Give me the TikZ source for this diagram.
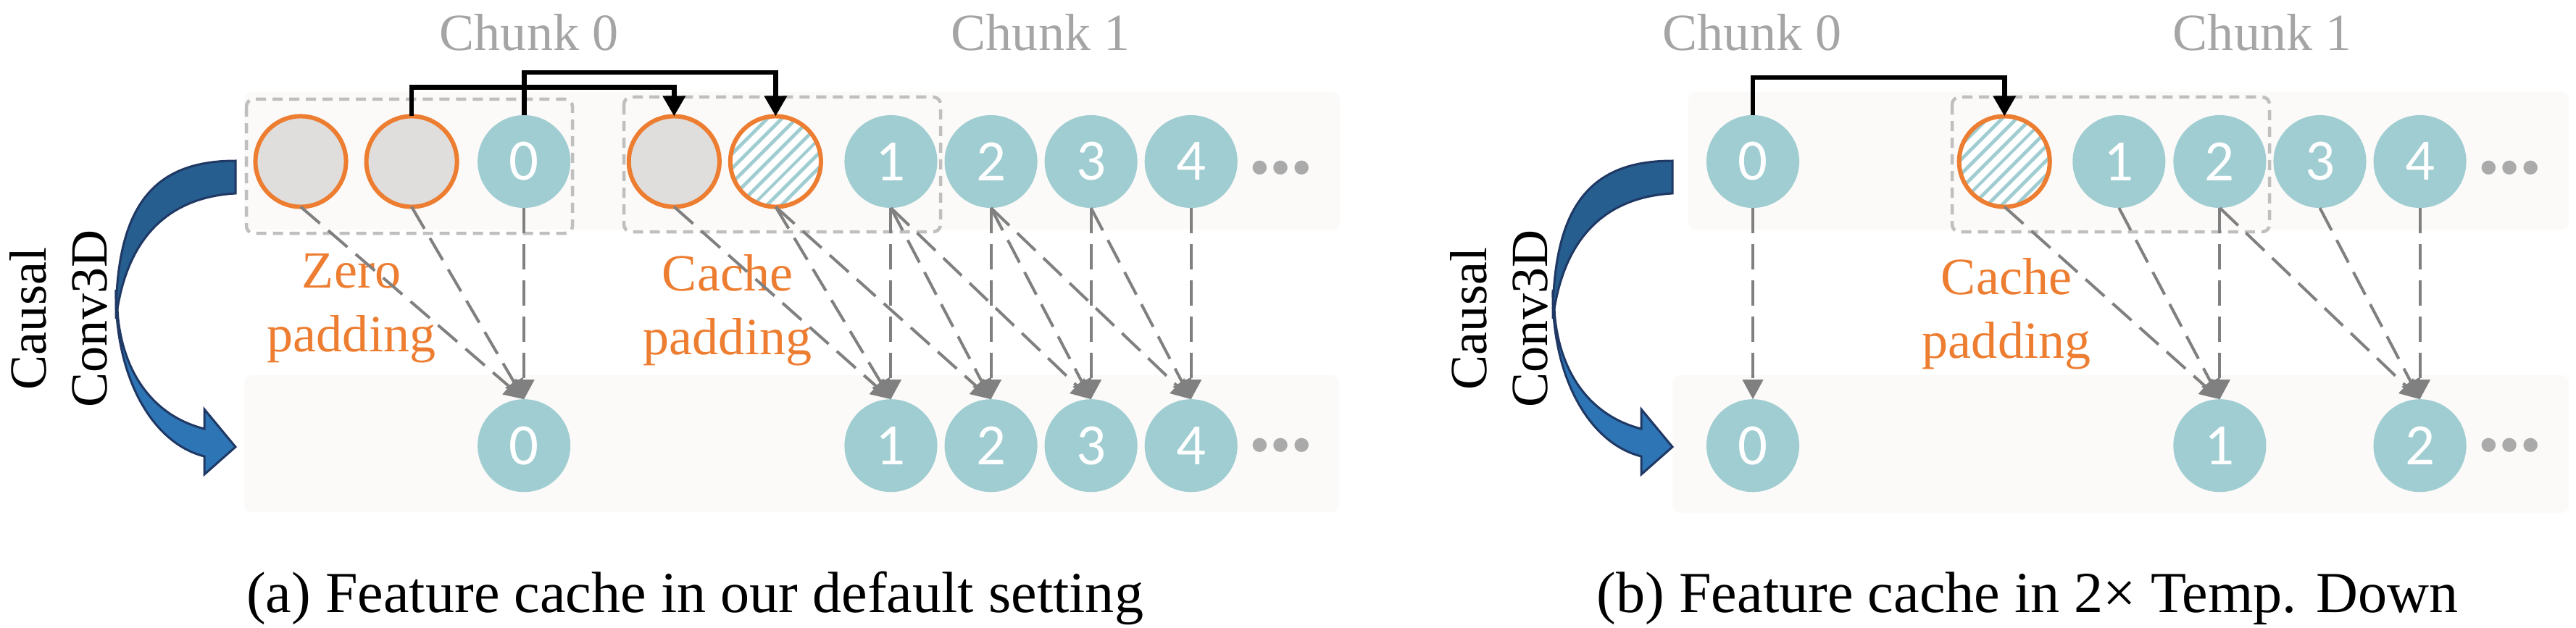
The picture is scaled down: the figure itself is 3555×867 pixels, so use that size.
\documentclass[tikz,border=0pt]{standalone}
\usepackage{fontspec}
\setmainfont{Liberation Serif}
\newfontfamily\digitfont{Carlito}
\usetikzlibrary{arrows.meta,positioning,patterns.meta}
\definecolor{featteal}{HTML}{9FCDD1}
\definecolor{padorange}{HTML}{ED7D31}
\definecolor{padgray}{HTML}{DFDEDD}
\definecolor{bandgray}{HTML}{FBFAF8}
\definecolor{boxgray}{HTML}{BFBFBF}
\definecolor{linkgray}{HTML}{808080}
\definecolor{labelgray}{HTML}{A5A5A5}
\definecolor{dotgray}{HTML}{AAAAAA}
\definecolor{arrowblue}{HTML}{2E75B6}
\definecolor{arrowdark}{HTML}{265E8F}
\definecolor{arrowedge}{HTML}{1F3864}
\tikzset{
  featnode/.style={circle,fill=featteal,minimum size=1.28cm,inner sep=0pt,outer sep=0pt,
    text=white,font=\digitfont\fontsize{23}{23}\selectfont},
  padnode/.style={circle,draw=padorange,line width=0.06cm,fill=padgray,
    minimum size=1.25cm,inner sep=0pt,outer sep=0pt},
  hatchnode/.style={circle,draw=padorange,line width=0.06cm,preaction={fill=white},
    pattern={Lines[angle=45,distance=0.14cm,line width=0.05cm]},pattern color=featteal,
    minimum size=1.25cm,inner sep=0pt,outer sep=0pt},
  dotsnode/.style={text=dotgray,inner sep=0pt,font=\digitfont\bfseries\fontsize{37}{37}\selectfont},
  band/.style={fill=bandgray,rounded corners=0.1cm},
  padbox/.style={draw=boxgray,line width=0.045cm,dash pattern=on 0.14cm off 0.09cm,rounded corners=0.1cm},
  linkarrow/.style={-{Triangle[length=0.27cm,width=0.28cm]},draw=linkgray,line width=0.04cm,
    dash pattern=on 0.35cm off 0.15cm},
  cachearrow/.style={-{Triangle[length=0.28cm,width=0.3cm]},line width=0.068cm},
  chunklabel/.style={text=labelgray,font=\fontsize{20.5}{24}\selectfont},
  padlabel/.style={text=padorange,align=center,font=\fontsize{20.5}{25}\selectfont},
  convlabel/.style={rotate=90,align=center,font=\fontsize{20.5}{24}\selectfont},
  captiontext/.style={font=\fontsize{22.8}{26}\selectfont},
  convarrow/.pic={
    \filldraw[fill=arrowblue,draw=arrowedge,line width=0.03cm] (160,400)
      .. controls (158,520) and (210,612) .. (282,630) -- (282,655) -- (325,617)
      -- (282,565) -- (282,592) .. controls (215,575) and (172,520) .. (163,440) -- cycle;
    \filldraw[fill=arrowdark,draw=arrowedge,line width=0.03cm] (325,222)
      .. controls (215,222) and (160,280) .. (160,440)
      .. controls (175,320) and (240,272) .. (325,267) -- cycle;
  }
}
\begin{document}
\begin{tikzpicture}[x=0.01cm,y=-0.01cm]
  \useasboundingbox (0,0) rectangle (3555,867);
  % (a) default setting
  \fill[band] (337,127) rectangle (1849,317);
  \fill[band] (337,518) rectangle (1848,707);
  \draw[padbox] (340,137) rectangle (790,322);
  \draw[padbox] (861,134) rectangle (1298,320);
  \node[chunklabel] (lchunk0) at (730,45) {Chunk 0};
  \node[chunklabel] (lchunk1) at (1436,45) {Chunk 1};
  \node[padlabel] (zeropad) at (485,426) {Zero\\padding};
  \node[padlabel] (lcachepad) at (1004,428) {Cache\\padding};
  \node[convlabel] (lconv) at (81,440) {Causal\\Conv3D};
  \pic (larrow) at (0,0) {convarrow};
  \node[padnode] (z1) at (415,223) {};
  \node[padnode,right=0.28cm of z1] (z2) {};
  \node[featnode,right=0.285cm of z2] (t0) {0};
  \node[padnode,right=0.805cm of t0] (c1) {};
  \node[hatchnode,right=0.15cm of c1] (h1) {};
  \node[featnode,right=0.325cm of h1] (t1) {1};
  \node[featnode,right=0.1cm of t1] (t2) {2};
  \node[featnode,right=0.1cm of t2] (t3) {3};
  \node[featnode,right=0.1cm of t3] (t4) {4};
  \node[dotsnode] (ltopdots) at (1768,232) {…};
  \node[featnode,below=2.64cm of t0] (b0) {0};
  \node[featnode,below=2.64cm of t1] (b1) {1};
  \node[featnode,below=2.64cm of t2] (b2) {2};
  \node[featnode,below=2.64cm of t3] (b3) {3};
  \node[featnode,below=2.64cm of t4] (b4) {4};
  \node[dotsnode] (lbotdots) at (1768,615) {…};
  \draw[linkarrow] (z1.south) -- (b0.north);
  \draw[linkarrow] (z2.south) -- (b0.north);
  \draw[linkarrow] (t0.south) -- (b0.north);
  \draw[linkarrow] (c1.south) -- (b1.north);
  \draw[linkarrow] (h1.south) -- (b1.north);
  \draw[linkarrow] (t1.south) -- (b1.north);
  \draw[linkarrow] (h1.south) -- (b2.north);
  \draw[linkarrow] (t1.south) -- (b2.north);
  \draw[linkarrow] (t2.south) -- (b2.north);
  \draw[linkarrow] (t1.south) -- (b3.north);
  \draw[linkarrow] (t2.south) -- (b3.north);
  \draw[linkarrow] (t3.south) -- (b3.north);
  \draw[linkarrow] (t2.south) -- (b4.north);
  \draw[linkarrow] (t3.south) -- (b4.north);
  \draw[linkarrow] (t4.south) -- (b4.north);
  \draw[cachearrow] (z2.north) -- ++(0,-40) -| (c1.north);
  \draw[cachearrow] (t0.north) -- ++(0,-59) -| (h1.north);
  \node[captiontext,anchor=base] (capa) at (959,845) {(a) Feature cache in our default setting};
  % (b) 2x temporal downsampling
  \fill[band] (2330,127) rectangle (3545,317);
  \fill[band] (2308,518) rectangle (3545,708);
  \draw[padbox] (2694,134) rectangle (3132,320);
  \node[chunklabel] (rchunk0) at (2418,45) {Chunk 0};
  \node[chunklabel] (rchunk1) at (3122,45) {Chunk 1};
  \node[padlabel] (rcachepad) at (2769,433) {Cache\\padding};
  \node[convlabel] (rconv) at (2069,440) {Causal\\Conv3D};
  \pic (rarrow) at (1983,0) {convarrow};
  \node[featnode] (r0) at (2419,223) {0};
  \node[hatchnode,right=2.205cm of r0] (rh) {};
  \node[featnode,right=0.315cm of rh] (r1) {1};
  \node[featnode,right=0.11cm of r1] (r2) {2};
  \node[featnode,right=0.1cm of r2] (r3) {3};
  \node[featnode,right=0.1cm of r3] (r4) {4};
  \node[dotsnode] (rtopdots) at (3464,232) {…};
  \node[featnode,below=2.64cm of r0] (s0) {0};
  \node[featnode,below=2.64cm of r2] (s1) {1};
  \node[featnode,below=2.64cm of r4] (s2) {2};
  \node[dotsnode] (rbotdots) at (3464,615) {…};
  \draw[linkarrow] (r0.south) -- (s0.north);
  \draw[linkarrow] (rh.south) -- (s1.north);
  \draw[linkarrow] (r1.south) -- (s1.north);
  \draw[linkarrow] (r2.south) -- (s1.north);
  \draw[linkarrow] (r2.south) -- (s2.north);
  \draw[linkarrow] (r3.south) -- (s2.north);
  \draw[linkarrow] (r4.south) -- (s2.north);
  \draw[cachearrow] (r0.north) -- ++(0,-52) -| (rh.north);
  \node[captiontext,anchor=base] (capb) at (2798,845) {(b) Feature cache in 2× Temp. Down};
\end{tikzpicture}
\end{document}
